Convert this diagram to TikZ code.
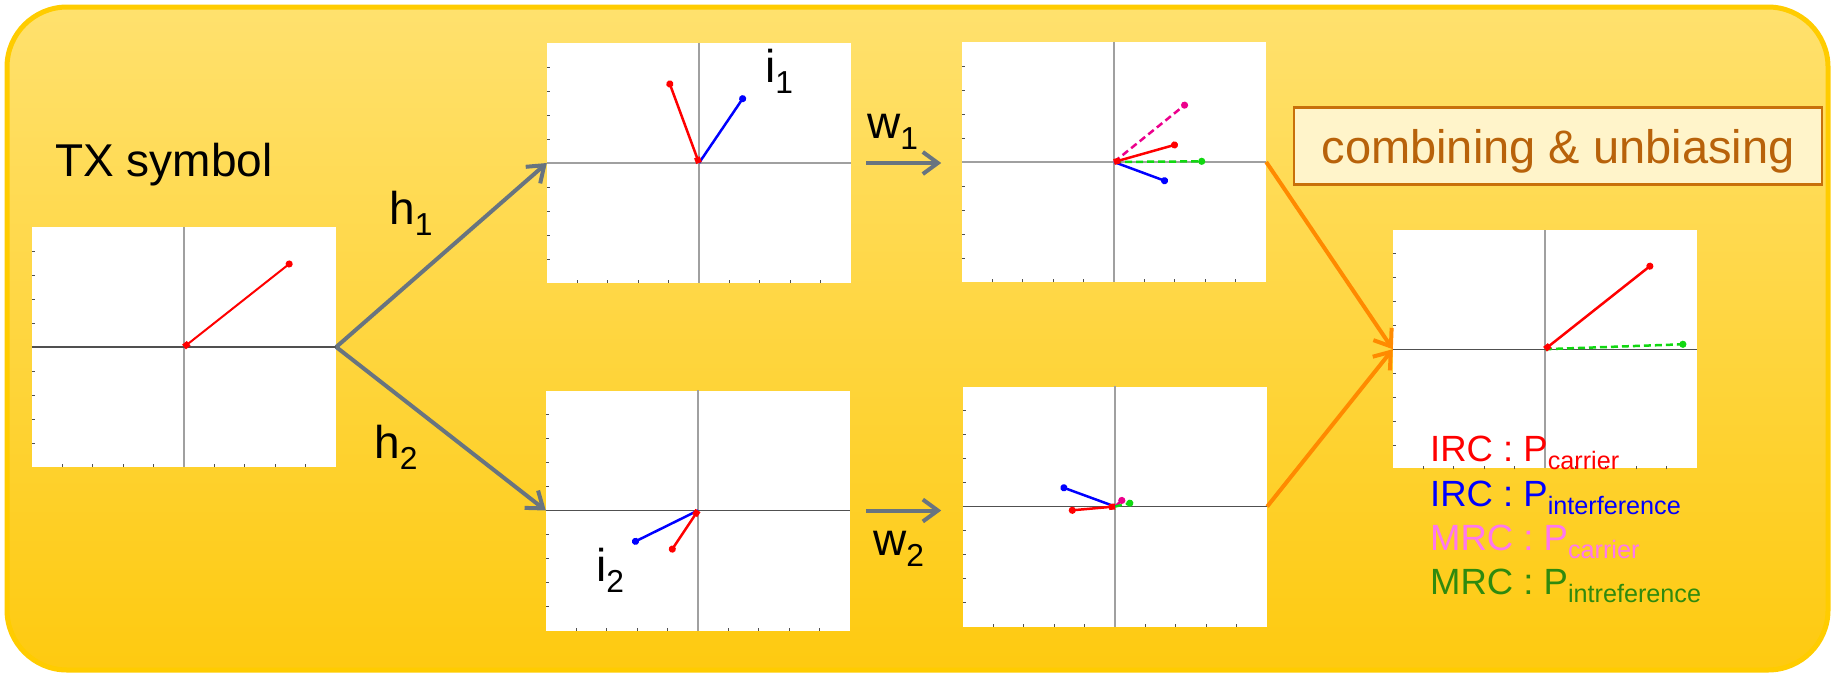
\documentclass[tikz,border=0pt]{standalone}
\usepackage{fontspec}
\setmainfont{Liberation Sans}
\usepackage{graphicx}
\usetikzlibrary{arrows.meta}
\definecolor{bgtop}{HTML}{FFE16E}
\definecolor{bgbot}{HTML}{FECA10}
\definecolor{bgline}{HTML}{FFCC00}
\definecolor{arrgray}{HTML}{687480}
\definecolor{orangeln}{HTML}{FF8A00}
\definecolor{boxfill}{HTML}{FFF4CA}
\definecolor{boxline}{HTML}{C8700A}
\definecolor{boxtext}{HTML}{B8620A}
\definecolor{axlight}{HTML}{A0A0A0}
\definecolor{axdark}{HTML}{505050}
\definecolor{vgreen}{HTML}{10D810}
\definecolor{legpink}{HTML}{FF77EE}
\definecolor{leggreen}{HTML}{2F8A0E}
\newcommand{\lsub}[1]{\raisebox{-0.24em}{\scalebox{0.69}{#1}}}

\begin{document}
\begin{tikzpicture}[x=1pt, y=-1pt,
    plot/.style={fill=white, minimum width=304pt, minimum height=240pt, inner sep=0pt},
    lab/.style={anchor=base west, inner sep=0pt, font=\fontsize{46}{55}\selectfont},
    leg/.style={anchor=base west, inner sep=0pt, font=\fontsize{36.5}{44}\selectfont},
    harr/.style={-{Straight Barb[length=15pt, width=22pt]}, line width=4pt, arrgray},
    oarr/.style={harr, orangeln},
    tick/.style={line width=0.8pt, axdark},
    vec/.style={line width=2.5pt, -{Circle[length=7pt]}},
    org/.style={vec, {Square[length=6pt]}-{Circle[length=7pt]}},
    dsh/.style={vec, dash pattern=on 7pt off 4pt}]
  \useasboundingbox (0,0) rectangle (1835,675);
  \draw[line width=5pt, draw=bgline, top color=bgtop, bottom color=bgbot, rounded corners=60pt] (7,7) rectangle (1828,670);

  \node[plot] (tx)  at (184,347) {};
  \node[plot] (rx1) at (699,163) {};
  \node[plot] (rx2) at (698,510.5) {};
  \node[plot] (eq1) at (1114,162) {};
  \node[plot] (eq2) at (1115,506.5) {};
  \node[plot, minimum height=238pt] (out) at (1545,349.2) {};

  \foreach \p/\hc in {tx/axdark, rx1/axlight, rx2/axdark, eq1/axlight, eq2/axdark, out/axdark} {
    \draw[axlight, line width=1.5pt] (\p.north) -- (\p.south);
    \draw[color=\hc, line width=1.2pt] (\p.west) -- (\p.east);
    \begin{scope}[shift={(\p.center)}, x=30.4pt, y=24pt]
      \foreach \k in {-4,-3,-2,-1,1,2,3,4}
        \draw[tick] (\k,-5) -- ++(0,0.12) (-5,\k) -- ++(0.1,0);
    \end{scope}
  }

  \begin{scope}[shift={(tx.center)}, x=30.4pt, y=24pt]
    \draw[org, red, line width=2pt] (0,0) -- (3.55,3.55);
  \end{scope}
  \begin{scope}[shift={(rx1.center)}, x=30.4pt, y=24pt]
    \draw[vec, blue] (0,0) -- (1.5,2.8);
    \draw[org, red] (0,0) -- (-1,3.43);
  \end{scope}
  \begin{scope}[shift={(rx2.center)}, x=30.4pt, y=24pt]
    \draw[vec, blue] (0,0) -- (-2.16,-1.35);
    \draw[org, red] (0,0) -- (-0.91,-1.73);
  \end{scope}
  \begin{scope}[shift={(eq1.center)}, x=30.4pt, y=24pt]
    \draw[dsh, magenta] (0,0) -- (2.41,2.46);
    \draw[dsh, vgreen] (0,0) -- (3.0,0.03);
    \draw[vec, blue] (0,0) -- (1.77,-0.83);
    \draw[org, red] (0,0) -- (2.1,0.75);
  \end{scope}
  \begin{scope}[shift={(eq2.center)}, x=30.4pt, y=24pt]
    \draw[dsh, magenta] (0,0) -- (0.31,0.35);
    \draw[dsh, vgreen] (0,0) -- (0.6,0.17);
    \draw[vec, blue] (0,0) -- (-1.79,0.83);
    \draw[org, red] (0,0) -- (-1.52,-0.17);
  \end{scope}
  \begin{scope}[shift={(out.center)}, x=30.4pt, y=24pt]
    \draw[dsh, vgreen] (0,0) -- (4.65,0.21);
    \draw[org, red] (0,0) -- (3.54,3.55);
  \end{scope}

  \coordinate (w1e) at ([xshift=90pt]rx1.east);
  \coordinate (w2e) at ([xshift=91pt]rx2.east);
  \draw[harr] (tx.east) -- (rx1.west);
  \draw[harr] (tx.east) -- (rx2.west);
  \draw[harr] ([xshift=15pt]rx1.east) -- (w1e);
  \draw[harr] ([xshift=16pt]rx2.east) -- (w2e);
  \draw[oarr] (eq1.east) -- (out.west);
  \draw[oarr] (eq2.east) -- (out.west);

  \node[lab] (txl) at (55,176.5) {TX symbol};
  \node[lab] (h1) at (389,224) {h\lsub{1}};
  \node[lab] (h2) at (374,458.5) {h\lsub{2}};
  \node[lab] (i1) at (765,82.7) {i\lsub{1}};
  \node[lab] (i2) at (596,581.7) {i\lsub{2}};
  \node[lab] (w1) at (867,138.3) {w\lsub{1}};
  \node[lab] (w2) at (873,555) {w\lsub{2}};

  \node[draw=boxline, line width=2.5pt, fill=boxfill, text=boxtext, minimum width=528pt, minimum height=77pt,
        text height=36pt, text depth=0pt, font=\fontsize{47}{56}\selectfont] (comb) at (1558,145.8) {combining \& unbiasing};

  \node[leg, text=red] (leg1) at (1430,461) {IRC : P\lsub{carrier}};
  \node[leg, text=blue] (leg2) at (1430,506) {IRC : P\lsub{interference}};
  \node[leg, text=legpink] (leg3) at (1430,550) {MRC : P\lsub{carrier}};
  \node[leg, text=leggreen] (leg4) at (1430,594) {MRC : P\lsub{intreference}};
\end{tikzpicture}
\end{document}
